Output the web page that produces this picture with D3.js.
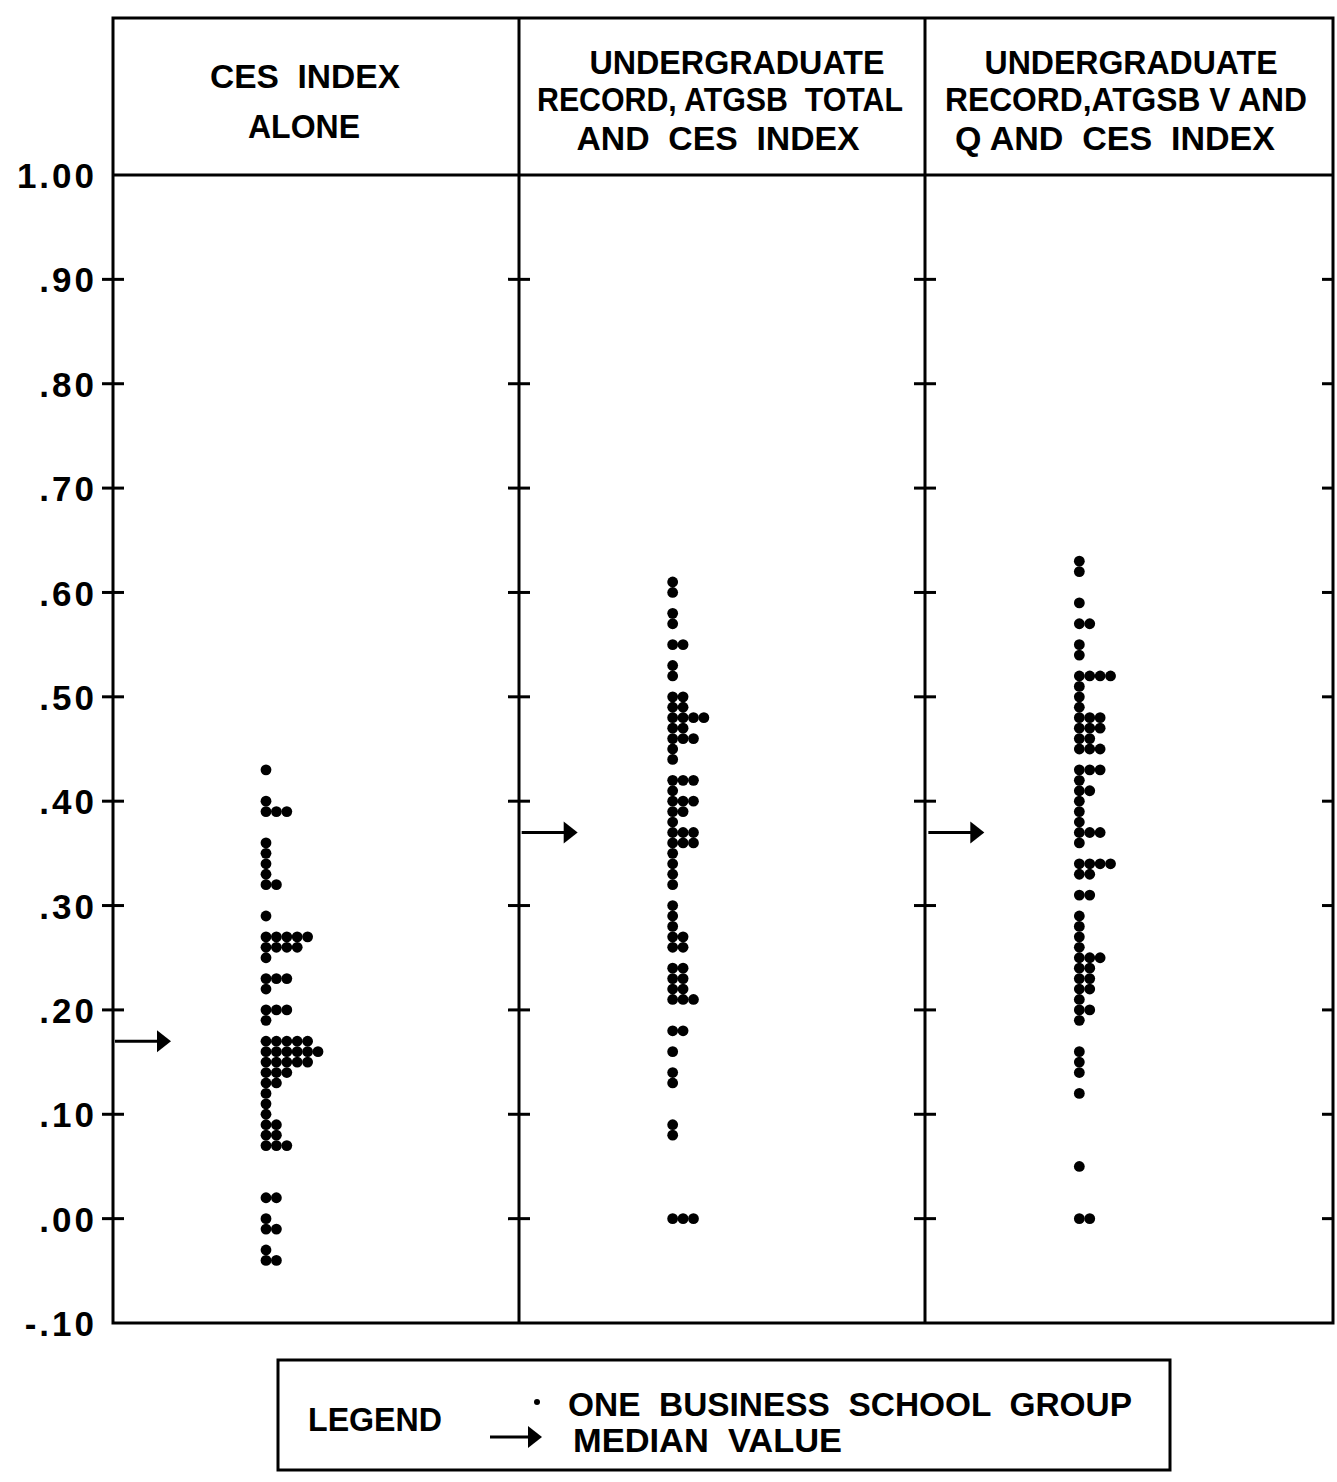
<!DOCTYPE html>
<html><head><meta charset="utf-8">
<script src="https://cdn.jsdelivr.net/npm/d3@7"></script>
<style>html,body{margin:0;padding:0;background:#fff;}svg{display:block;}</style>
</head><body>
<svg id="chart" width="1337" height="1482"></svg>
<script>
// ---- DATA ----
const panelTitles = [
  ["CES  INDEX", "ALONE"],
  ["UNDERGRADUATE", "RECORD, ATGSB  TOTAL", "AND  CES  INDEX"],
  ["UNDERGRADUATE", "RECORD,ATGSB V AND", "Q AND  CES  INDEX"]
];
const yTickValues = [1.00, 0.90, 0.80, 0.70, 0.60, 0.50, 0.40, 0.30, 0.20, 0.10, 0.00, -0.10];
const yTickLabels = ["1.00", ".90", ".80", ".70", ".60", ".50", ".40", ".30", ".20", ".10", ".00", "-.10"];
// one value per business school group (stacked dot plot)
const cesAlone = [
  0.43, 0.40, 0.39,0.39,0.39, 0.36, 0.35, 0.34, 0.33, 0.32,0.32, 0.29,
  0.27,0.27,0.27,0.27,0.27, 0.26,0.26,0.26,0.26, 0.25, 0.23,0.23,0.23, 0.22,
  0.20,0.20,0.20, 0.19, 0.17,0.17,0.17,0.17,0.17, 0.16,0.16,0.16,0.16,0.16,0.16,
  0.15,0.15,0.15,0.15,0.15, 0.14,0.14,0.14, 0.13,0.13, 0.12, 0.11, 0.10,
  0.09,0.09, 0.08,0.08, 0.07,0.07,0.07, 0.02,0.02, 0.00, -0.01,-0.01, -0.03, -0.04,-0.04
];
const ugTotalCes = [
  0.61, 0.60, 0.58, 0.57, 0.55,0.55, 0.53, 0.52, 0.50,0.50, 0.49,0.49,
  0.48,0.48,0.48,0.48, 0.47,0.47, 0.46,0.46,0.46, 0.45, 0.44,
  0.42,0.42,0.42, 0.41, 0.40,0.40,0.40, 0.39,0.39, 0.38, 0.37,0.37,0.37, 0.36,0.36,0.36,
  0.35, 0.34, 0.33, 0.32, 0.30, 0.29, 0.28, 0.27,0.27, 0.26,0.26,
  0.24,0.24, 0.23,0.23, 0.22,0.22, 0.21,0.21,0.21, 0.18,0.18, 0.16, 0.14, 0.13,
  0.09, 0.08, 0.00,0.00,0.00
];
const ugVQCes = [
  0.63, 0.62, 0.59, 0.57,0.57, 0.55, 0.54, 0.52,0.52,0.52,0.52, 0.51, 0.50, 0.49,
  0.48,0.48,0.48, 0.47,0.47,0.47, 0.46,0.46, 0.45,0.45,0.45,
  0.43,0.43,0.43, 0.42, 0.41,0.41, 0.40, 0.39, 0.38, 0.37,0.37,0.37, 0.36,
  0.34,0.34,0.34,0.34, 0.33,0.33, 0.31,0.31, 0.29, 0.28, 0.27, 0.26,
  0.25,0.25,0.25, 0.24,0.24, 0.23,0.23, 0.22,0.22, 0.21, 0.20,0.20, 0.19,
  0.16, 0.15, 0.14, 0.12, 0.05, 0.00,0.00
];
const panelSeries = [cesAlone, ugTotalCes, ugVQCes];
const medianValues = [0.17, 0.37, 0.37];
const legendLabels = ["LEGEND", "ONE  BUSINESS  SCHOOL  GROUP", "MEDIAN  VALUE"];

// ---- LAYOUT (styling only) ----
const titleLayout = [
  [{cx: 305, base: 88, w: 190}, {cx: 304, base: 138, w: 112}],
  [{cx: 737, base: 74, w: 295}, {cx: 720, base: 111, w: 366}, {cx: 718, base: 150, w: 283}],
  [{cx: 1131, base: 74, w: 293}, {cx: 1126, base: 111, w: 362}, {cx: 1115, base: 150, w: 320}]
];

const svg = d3.select("#chart");
const L = 113, R = 1333, TOP = 18, HEAD = 175, BOT = 1323;
const dividers = [L, 519, 925, R];
const font = "'Liberation Sans', Arial, sans-serif";

const y = d3.scaleLinear().domain([-0.1, 1.0]).range([BOT, HEAD]);
const panelX = d3.scaleBand().domain([0,1,2]).range([L, R]);
const colX = d3.scaleLinear().domain([0, 1]).range([153, 163.4]);

// frame
svg.append("rect").attr("x", L).attr("y", TOP).attr("width", R - L).attr("height", BOT - TOP)
  .attr("fill", "none").attr("stroke", "#000").attr("stroke-width", 3);
svg.append("line").attr("x1", L).attr("x2", R).attr("y1", HEAD).attr("y2", HEAD)
  .attr("stroke", "#000").attr("stroke-width", 3);
dividers.slice(1, 3).forEach(x => {
  svg.append("line").attr("x1", x).attr("x2", x).attr("y1", TOP).attr("y2", BOT)
    .attr("stroke", "#000").attr("stroke-width", 3);
});

// y axis labels via d3 axis
const yAxis = d3.axisLeft(y).tickValues(yTickValues)
  .tickFormat((d, i) => yTickLabels[i]).tickSize(0).tickPadding(16);
const ag = svg.append("g").attr("transform", `translate(${L},0)`).call(yAxis);
ag.select(".domain").remove();
ag.selectAll("text").attr("font-family", font).attr("font-weight", "bold")
  .attr("font-size", 35).attr("letter-spacing", 3).attr("fill", "#000").attr("dy", "0.36em");

// tick marks crossing each vertical line
const innerTicks = yTickValues.filter(v => v < 0.95 && v > -0.05);
dividers.forEach((x, k) => {
  svg.append("g").selectAll("line").data(innerTicks).join("line")
    .attr("x1", x - 11).attr("x2", k === 3 ? x : x + 11)
    .attr("y1", d => y(d)).attr("y2", d => y(d))
    .attr("stroke", "#000").attr("stroke-width", 3);
});

// headers
panelTitles.forEach((lines, p) => {
  svg.append("g").selectAll("text").data(lines).join("text")
    .attr("x", (d, i) => titleLayout[p][i].cx).attr("y", (d, i) => titleLayout[p][i].base)
    .attr("text-anchor", "middle").attr("font-family", font).attr("font-weight", "bold")
    .attr("font-size", 33).attr("textLength", (d, i) => titleLayout[p][i].w)
    .attr("lengthAdjust", "spacingAndGlyphs")
    .style("white-space", "pre").text(d => d);
});

// dots: stack by value
panelSeries.forEach((vals, p) => {
  const counter = new Map();
  const dots = vals.map(v => {
    const key = v.toFixed(2);
    const c = counter.get(key) || 0;
    counter.set(key, c + 1);
    return { v, col: c };
  });
  svg.append("g").selectAll("circle").data(dots).join("circle")
    .attr("cx", d => panelX(p) + colX(d.col))
    .attr("cy", d => y(d.v))
    .attr("r", 5.4).attr("fill", "#000");
});

// median arrows
function arrow(g, x0, x1, yy) {
  g.append("line").attr("x1", x0).attr("x2", x1 - 10).attr("y1", yy).attr("y2", yy)
    .attr("stroke", "#000").attr("stroke-width", 3);
  g.append("path").attr("d", `M${x1},${yy} L${x1 - 14},${yy - 11} L${x1 - 14},${yy + 11} Z`).attr("fill", "#000");
}
const mg = svg.append("g");
medianValues.forEach((m, p) => {
  const x0 = panelX(p) + 2;
  arrow(mg, x0, x0 + 56, y(m));
});

// legend
const lg = svg.append("g");
lg.append("rect").attr("x", 278).attr("y", 1360).attr("width", 892).attr("height", 110)
  .attr("fill", "none").attr("stroke", "#000").attr("stroke-width", 3);
const legText = [
  {x: 308, base: 1431, w: 134},
  {x: 568, base: 1416, w: 564},
  {x: 573, base: 1452, w: 269}
];
legendLabels.forEach((t, i) => {
  lg.append("text").attr("x", legText[i].x).attr("y", legText[i].base)
    .attr("font-family", font).attr("font-weight", "bold").attr("font-size", 33)
    .attr("textLength", legText[i].w).attr("lengthAdjust", "spacingAndGlyphs")
    .style("white-space", "pre").text(t);
});
lg.append("circle").attr("cx", 537).attr("cy", 1402).attr("r", 3).attr("fill", "#000");
arrow(lg, 490, 542, 1437);
</script>
</body></html>
